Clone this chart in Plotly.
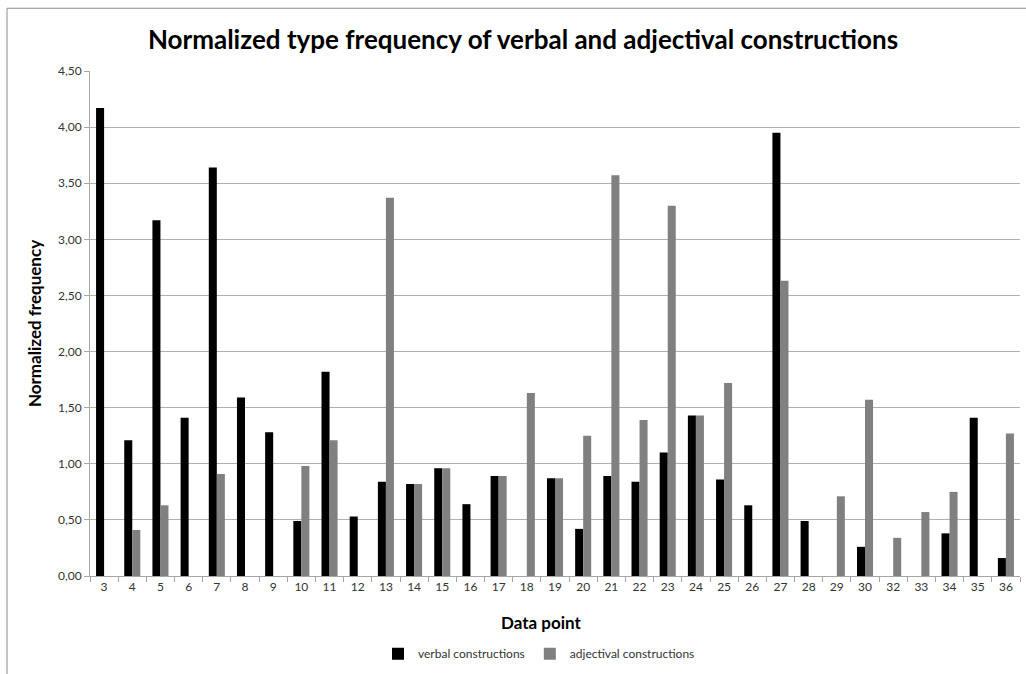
import plotly.graph_objects as go

categories = ["3", "4", "5", "6", "7", "8", "9", "10", "11", "12", "13", "14", "15", "16",
              "17", "18", "19", "20", "21", "22", "23", "24", "25", "26", "27", "28", "29",
              "30", "32", "33", "34", "35", "36"]
verbal = [4.17, 1.21, 3.17, 1.41, 3.64, 1.59, 1.28, 0.49, 1.82, 0.53, 0.84, 0.82, 0.96, 0.64,
          0.89, 0, 0.87, 0.42, 0.89, 0.84, 1.10, 1.43, 0.86, 0.63, 3.95, 0.49, 0,
          0.26, 0, 0, 0.38, 1.41, 0.16]
adjectival = [0, 0.41, 0.63, 0, 0.91, 0, 0, 0.98, 1.21, 0, 3.37, 0.82, 0.96, 0,
              0.89, 1.63, 0.87, 1.25, 3.57, 1.39, 3.30, 1.43, 1.72, 0, 2.63, 0, 0.71,
              1.57, 0.34, 0.57, 0.75, 0, 1.27]
y_ticks = [0, 0.5, 1, 1.5, 2, 2.5, 3, 3.5, 4, 4.5]

FONT = "Lato"
W, H = 1026, 674
L, R, T, B = 90, 6, 71, 96
pw, ph = W - L - R, H - T - B

fig = go.Figure()
fig.add_trace(go.Bar(x=categories, y=verbal, name="verbal constructions",
                     marker=dict(color="#000000", line=dict(width=0))))
fig.add_trace(go.Bar(x=categories, y=adjectival, name="adjectival constructions",
                     marker=dict(color="#808080", line=dict(width=0))))

def px_x(p):
    return (p - L) / pw

def px_y(p):
    return (H - B - p) / ph

fig.update_layout(
    width=W, height=H,
    margin=dict(l=L, r=R, t=T, b=B),
    paper_bgcolor="white", plot_bgcolor="white",
    separators=",.",
    barmode="group", bargap=0.43, bargroupgap=0,
    font=dict(family=FONT, color="#333333"),
    title=dict(text="<b>Normalized type frequency of verbal and adjectival constructions</b>",
               x=523 / W, xanchor="center", y=1 - 40 / H, yanchor="middle",
               font=dict(family=FONT, size=26, color="#000000")),
    xaxis=dict(type="category", showline=True, linecolor="#a6a6a6", linewidth=1,
               ticks="outside", tickson="boundaries", ticklen=5, tickcolor="#a6a6a6",
               tickfont=dict(family=FONT, size=12, color="#333333"),
               showgrid=False),
    yaxis=dict(range=[0, 4.5], tickvals=y_ticks, tickformat=".2f",
               showline=True, linecolor="#a6a6a6", linewidth=1,
               ticks="outside", ticklen=5, tickcolor="#a6a6a6",
               showgrid=True, gridcolor="#b0b0b0", gridwidth=1,
               tickfont=dict(family=FONT, size=12, color="#333333"),
               title=dict(text="<b>Normalized frequency</b>", font=dict(family=FONT, size=17, color="#000000"),
                          standoff=12),
               zeroline=False),
    legend=dict(orientation="h", x=px_x(539), xanchor="center", y=px_y(656), yanchor="middle",
                font=dict(family=FONT, size=12, color="#333333"), itemwidth=30,
                bgcolor="rgba(0,0,0,0)"),
    showlegend=True,
)

fig.add_annotation(text="<b>Data point</b>", xref="paper", yref="paper",
                   x=px_x(541), y=px_y(625), xanchor="center", yanchor="middle",
                   showarrow=False, font=dict(family=FONT, size=17, color="#000000"))

# chart frame (left and top borders)
fig.add_shape(type="line", xref="paper", yref="paper",
              x0=px_x(7), x1=px_x(7), y0=px_y(8), y1=px_y(H + 5),
              line=dict(color="#8c8c8c", width=1))
fig.add_shape(type="line", xref="paper", yref="paper",
              x0=px_x(7), x1=px_x(W + 5), y0=px_y(8), y1=px_y(8),
              line=dict(color="#8c8c8c", width=1))

fig.write_html("out.html", config={"displayModeBar": False},
               post_script="document.body.style.margin='0';document.body.style.overflow='hidden';")
